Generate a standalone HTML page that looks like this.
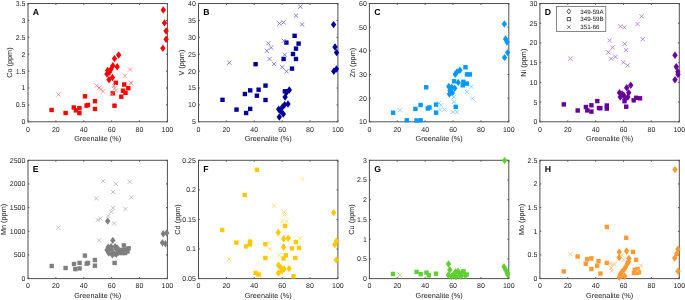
<!DOCTYPE html>
<html><head><meta charset="utf-8"><style>html,body{margin:0;padding:0;background:#fff;width:685px;height:300px;overflow:hidden}svg{display:block;filter:blur(0.45px)}</style></head>
<body><svg width="685" height="300" viewBox="0 0 685 300" font-family='"Liberation Sans", sans-serif' text-rendering="geometricPrecision"><rect width="685" height="300" fill="#fff"/><rect x="28.00" y="3.50" width="139.40" height="118.30" fill="none" stroke="#505050" stroke-width="1"/><path d="M28.00 121.80v-1.4M28.00 3.50v1.4" stroke="#505050" stroke-width="1"/><text x="28.00" y="131.50" font-size="7.0" fill="#222222" text-anchor="middle">0</text><path d="M55.88 121.80v-1.4M55.88 3.50v1.4" stroke="#505050" stroke-width="1"/><text x="55.88" y="131.50" font-size="7.0" fill="#222222" text-anchor="middle">20</text><path d="M83.76 121.80v-1.4M83.76 3.50v1.4" stroke="#505050" stroke-width="1"/><text x="83.76" y="131.50" font-size="7.0" fill="#222222" text-anchor="middle">40</text><path d="M111.64 121.80v-1.4M111.64 3.50v1.4" stroke="#505050" stroke-width="1"/><text x="111.64" y="131.50" font-size="7.0" fill="#222222" text-anchor="middle">60</text><path d="M139.52 121.80v-1.4M139.52 3.50v1.4" stroke="#505050" stroke-width="1"/><text x="139.52" y="131.50" font-size="7.0" fill="#222222" text-anchor="middle">80</text><path d="M167.40 121.80v-1.4M167.40 3.50v1.4" stroke="#505050" stroke-width="1"/><text x="167.40" y="131.50" font-size="7.0" fill="#222222" text-anchor="middle">100</text><path d="M28.00 121.80h1.4M167.40 121.80h-1.4" stroke="#505050" stroke-width="1"/><text x="25.40" y="124.25" font-size="7.0" fill="#222222" text-anchor="end">0</text><path d="M28.00 104.90h1.4M167.40 104.90h-1.4" stroke="#505050" stroke-width="1"/><text x="25.40" y="107.35" font-size="7.0" fill="#222222" text-anchor="end">0.5</text><path d="M28.00 88.00h1.4M167.40 88.00h-1.4" stroke="#505050" stroke-width="1"/><text x="25.40" y="90.45" font-size="7.0" fill="#222222" text-anchor="end">1</text><path d="M28.00 71.10h1.4M167.40 71.10h-1.4" stroke="#505050" stroke-width="1"/><text x="25.40" y="73.55" font-size="7.0" fill="#222222" text-anchor="end">1.5</text><path d="M28.00 54.20h1.4M167.40 54.20h-1.4" stroke="#505050" stroke-width="1"/><text x="25.40" y="56.65" font-size="7.0" fill="#222222" text-anchor="end">2</text><path d="M28.00 37.30h1.4M167.40 37.30h-1.4" stroke="#505050" stroke-width="1"/><text x="25.40" y="39.75" font-size="7.0" fill="#222222" text-anchor="end">2.5</text><path d="M28.00 20.40h1.4M167.40 20.40h-1.4" stroke="#505050" stroke-width="1"/><text x="25.40" y="22.85" font-size="7.0" fill="#222222" text-anchor="end">3</text><path d="M28.00 3.50h1.4M167.40 3.50h-1.4" stroke="#505050" stroke-width="1"/><text x="25.40" y="5.95" font-size="7.0" fill="#222222" text-anchor="end">3.5</text><text x="97.70" y="140.90" font-size="7.3" fill="#222222" text-anchor="middle">Greenalite (%)</text><text transform="translate(11.77,62.65) rotate(-90)" font-size="7.3" fill="#222222" text-anchor="middle">Co (ppm)</text><text x="32.80" y="15.10" font-size="8.7" font-weight="bold" fill="#000">A</text><path d="M118.7 51.3L121.4 55.0L118.7 58.7L116.0 55.0Z" fill="#ff0000"/><path d="M114.5 54.9L117.2 58.6L114.5 62.3L111.8 58.6Z" fill="#ff0000"/><path d="M117.2 63.0L119.9 66.7L117.2 70.4L114.5 66.7Z" fill="#ff0000"/><path d="M112.8 62.1L115.5 65.8L112.8 69.5L110.1 65.8Z" fill="#ff0000"/><path d="M107.6 66.7L110.3 70.4L107.6 74.1L104.9 70.4Z" fill="#ff0000"/><path d="M111.0 65.6L113.7 69.3L111.0 73.0L108.3 69.3Z" fill="#ff0000"/><path d="M107.0 70.3L109.7 74.0L107.0 77.7L104.3 74.0Z" fill="#ff0000"/><path d="M109.5 68.3L112.2 72.0L109.5 75.7L106.8 72.0Z" fill="#ff0000"/><path d="M112.5 73.8L115.2 77.5L112.5 81.2L109.8 77.5Z" fill="#ff0000"/><path d="M109.0 76.1L111.7 79.8L109.0 83.5L106.3 79.8Z" fill="#ff0000"/><path d="M163.3 6.3L166.0 10.0L163.3 13.7L160.6 10.0Z" fill="#ff0000"/><path d="M164.5 19.2L167.2 22.9L164.5 26.6L161.8 22.9Z" fill="#ff0000"/><path d="M166.1 27.3L168.8 31.0L166.1 34.7L163.4 31.0Z" fill="#ff0000"/><path d="M166.1 35.5L168.8 39.2L166.1 42.9L163.4 39.2Z" fill="#ff0000"/><path d="M162.9 44.6L165.6 48.3L162.9 52.0L160.2 48.3Z" fill="#ff0000"/><rect x="49.4" y="107.8" width="4.4" height="4.4" fill="#ff0000"/><rect x="63.4" y="110.8" width="4.4" height="4.4" fill="#ff0000"/><rect x="71.6" y="105.3" width="4.4" height="4.4" fill="#ff0000"/><rect x="73.7" y="108.2" width="4.4" height="4.4" fill="#ff0000"/><rect x="77.2" y="105.9" width="4.4" height="4.4" fill="#ff0000"/><rect x="77.2" y="110.9" width="4.4" height="4.4" fill="#ff0000"/><rect x="82.8" y="94.1" width="4.4" height="4.4" fill="#ff0000"/><rect x="84.4" y="103.4" width="4.4" height="4.4" fill="#ff0000"/><rect x="85.7" y="102.8" width="4.4" height="4.4" fill="#ff0000"/><rect x="92.8" y="99.0" width="4.4" height="4.4" fill="#ff0000"/><rect x="92.8" y="106.8" width="4.4" height="4.4" fill="#ff0000"/><rect x="110.6" y="91.1" width="4.4" height="4.4" fill="#ff0000"/><rect x="112.3" y="103.5" width="4.4" height="4.4" fill="#ff0000"/><rect x="113.6" y="80.6" width="4.4" height="4.4" fill="#ff0000"/><rect x="119.1" y="94.5" width="4.4" height="4.4" fill="#ff0000"/><rect x="120.8" y="88.5" width="4.4" height="4.4" fill="#ff0000"/><rect x="122.0" y="82.3" width="4.4" height="4.4" fill="#ff0000"/><rect x="123.3" y="90.6" width="4.4" height="4.4" fill="#ff0000"/><rect x="126.1" y="86.0" width="4.4" height="4.4" fill="#ff0000"/><path d="M56.4 92.4L60.6 96.6M56.4 96.6L60.6 92.4" stroke="#ff8080" stroke-width="0.8" fill="none"/><path d="M94.6 83.6L98.8 87.8M94.6 87.8L98.8 83.6" stroke="#ff8080" stroke-width="0.8" fill="none"/><path d="M97.1 85.7L101.3 89.9M97.1 89.9L101.3 85.7" stroke="#ff8080" stroke-width="0.8" fill="none"/><path d="M98.9 87.4L103.1 91.6M98.9 91.6L103.1 87.4" stroke="#ff8080" stroke-width="0.8" fill="none"/><path d="M100.9 89.4L105.1 93.6M100.9 93.6L105.1 89.4" stroke="#ff8080" stroke-width="0.8" fill="none"/><path d="M112.6 86.1L116.8 90.3M112.6 90.3L116.8 86.1" stroke="#ff8080" stroke-width="0.8" fill="none"/><path d="M109.6 91.6L113.8 95.8M109.6 95.8L113.8 91.6" stroke="#ff8080" stroke-width="0.8" fill="none"/><path d="M111.9 83.9L116.1 88.1M111.9 88.1L116.1 83.9" stroke="#ff8080" stroke-width="0.8" fill="none"/><path d="M122.9 73.6L127.1 77.8M122.9 77.8L127.1 73.6" stroke="#ff8080" stroke-width="0.8" fill="none"/><path d="M127.9 67.4L132.1 71.6M127.9 71.6L132.1 67.4" stroke="#ff8080" stroke-width="0.8" fill="none"/><path d="M129.2 81.1L133.4 85.3M129.2 85.3L133.4 81.1" stroke="#ff8080" stroke-width="0.8" fill="none"/><path d="M128.8 80.6L133.0 84.8M128.8 84.8L133.0 80.6" stroke="#ff8080" stroke-width="0.8" fill="none"/><path d="M113.9 88.4L118.1 92.6M113.9 92.6L118.1 88.4" stroke="#ff8080" stroke-width="0.8" fill="none"/><rect x="198.50" y="3.50" width="139.40" height="118.30" fill="none" stroke="#505050" stroke-width="1"/><path d="M198.50 121.80v-1.4M198.50 3.50v1.4" stroke="#505050" stroke-width="1"/><text x="198.50" y="131.50" font-size="7.0" fill="#222222" text-anchor="middle">0</text><path d="M226.38 121.80v-1.4M226.38 3.50v1.4" stroke="#505050" stroke-width="1"/><text x="226.38" y="131.50" font-size="7.0" fill="#222222" text-anchor="middle">20</text><path d="M254.26 121.80v-1.4M254.26 3.50v1.4" stroke="#505050" stroke-width="1"/><text x="254.26" y="131.50" font-size="7.0" fill="#222222" text-anchor="middle">40</text><path d="M282.14 121.80v-1.4M282.14 3.50v1.4" stroke="#505050" stroke-width="1"/><text x="282.14" y="131.50" font-size="7.0" fill="#222222" text-anchor="middle">60</text><path d="M310.02 121.80v-1.4M310.02 3.50v1.4" stroke="#505050" stroke-width="1"/><text x="310.02" y="131.50" font-size="7.0" fill="#222222" text-anchor="middle">80</text><path d="M337.90 121.80v-1.4M337.90 3.50v1.4" stroke="#505050" stroke-width="1"/><text x="337.90" y="131.50" font-size="7.0" fill="#222222" text-anchor="middle">100</text><path d="M198.50 121.80h1.4M337.90 121.80h-1.4" stroke="#505050" stroke-width="1"/><text x="195.90" y="124.25" font-size="7.0" fill="#222222" text-anchor="end">5</text><path d="M198.50 104.90h1.4M337.90 104.90h-1.4" stroke="#505050" stroke-width="1"/><text x="195.90" y="107.35" font-size="7.0" fill="#222222" text-anchor="end">10</text><path d="M198.50 88.00h1.4M337.90 88.00h-1.4" stroke="#505050" stroke-width="1"/><text x="195.90" y="90.45" font-size="7.0" fill="#222222" text-anchor="end">15</text><path d="M198.50 71.10h1.4M337.90 71.10h-1.4" stroke="#505050" stroke-width="1"/><text x="195.90" y="73.55" font-size="7.0" fill="#222222" text-anchor="end">20</text><path d="M198.50 54.20h1.4M337.90 54.20h-1.4" stroke="#505050" stroke-width="1"/><text x="195.90" y="56.65" font-size="7.0" fill="#222222" text-anchor="end">25</text><path d="M198.50 37.30h1.4M337.90 37.30h-1.4" stroke="#505050" stroke-width="1"/><text x="195.90" y="39.75" font-size="7.0" fill="#222222" text-anchor="end">30</text><path d="M198.50 20.40h1.4M337.90 20.40h-1.4" stroke="#505050" stroke-width="1"/><text x="195.90" y="22.85" font-size="7.0" fill="#222222" text-anchor="end">35</text><path d="M198.50 3.50h1.4M337.90 3.50h-1.4" stroke="#505050" stroke-width="1"/><text x="195.90" y="5.95" font-size="7.0" fill="#222222" text-anchor="end">40</text><text x="268.20" y="140.90" font-size="7.3" fill="#222222" text-anchor="middle">Greenalite (%)</text><text transform="translate(184.21,62.65) rotate(-90)" font-size="7.3" fill="#222222" text-anchor="middle">V (ppm)</text><text x="203.30" y="15.10" font-size="8.7" font-weight="bold" fill="#000">B</text><path d="M333.6 20.9L336.3 24.6L333.6 28.3L330.9 24.6Z" fill="#000099"/><path d="M335.0 43.3L337.7 47.0L335.0 50.7L332.3 47.0Z" fill="#000099"/><path d="M336.6 48.9L339.3 52.6L336.6 56.3L333.9 52.6Z" fill="#000099"/><path d="M333.8 67.5L336.5 71.2L333.8 74.9L331.1 71.2Z" fill="#000099"/><path d="M336.4 65.3L339.1 69.0L336.4 72.7L333.7 69.0Z" fill="#000099"/><path d="M289.3 86.3L292.0 90.0L289.3 93.7L286.6 90.0Z" fill="#000099"/><path d="M286.5 88.8L289.2 92.5L286.5 96.2L283.8 92.5Z" fill="#000099"/><path d="M285.1 93.4L287.8 97.1L285.1 100.8L282.4 97.1Z" fill="#000099"/><path d="M288.0 100.3L290.7 104.0L288.0 107.7L285.3 104.0Z" fill="#000099"/><path d="M284.7 101.0L287.4 104.7L284.7 108.4L282.0 104.7Z" fill="#000099"/><path d="M282.5 103.3L285.2 107.0L282.5 110.7L279.8 107.0Z" fill="#000099"/><path d="M278.7 105.6L281.4 109.3L278.7 113.0L276.0 109.3Z" fill="#000099"/><path d="M280.5 107.3L283.2 111.0L280.5 114.7L277.8 111.0Z" fill="#000099"/><path d="M283.3 110.3L286.0 114.0L283.3 117.7L280.6 114.0Z" fill="#000099"/><path d="M279.3 113.3L282.0 117.0L279.3 120.7L276.6 117.0Z" fill="#000099"/><rect x="220.3" y="97.6" width="4.4" height="4.4" fill="#000099"/><rect x="234.3" y="107.4" width="4.4" height="4.4" fill="#000099"/><rect x="243.9" y="110.8" width="4.4" height="4.4" fill="#000099"/><rect x="248.0" y="106.7" width="4.4" height="4.4" fill="#000099"/><rect x="242.7" y="91.8" width="4.4" height="4.4" fill="#000099"/><rect x="248.0" y="88.2" width="4.4" height="4.4" fill="#000099"/><rect x="254.7" y="93.5" width="4.4" height="4.4" fill="#000099"/><rect x="256.4" y="87.5" width="4.4" height="4.4" fill="#000099"/><rect x="253.4" y="62.0" width="4.4" height="4.4" fill="#000099"/><rect x="263.3" y="83.4" width="4.4" height="4.4" fill="#000099"/><rect x="263.3" y="97.8" width="4.4" height="4.4" fill="#000099"/><rect x="281.4" y="56.8" width="4.4" height="4.4" fill="#000099"/><rect x="293.8" y="56.8" width="4.4" height="4.4" fill="#000099"/><rect x="289.8" y="66.4" width="4.4" height="4.4" fill="#000099"/><rect x="290.8" y="51.8" width="4.4" height="4.4" fill="#000099"/><rect x="293.8" y="46.4" width="4.4" height="4.4" fill="#000099"/><rect x="296.4" y="41.4" width="4.4" height="4.4" fill="#000099"/><rect x="284.2" y="40.4" width="4.4" height="4.4" fill="#000099"/><rect x="292.4" y="33.6" width="4.4" height="4.4" fill="#000099"/><rect x="282.7" y="89.1" width="4.4" height="4.4" fill="#000099"/><path d="M227.2 60.6L231.4 64.8M227.2 64.8L231.4 60.6" stroke="#6666cc" stroke-width="0.8" fill="none"/><path d="M266.3 41.2L270.5 45.4M266.3 45.4L270.5 41.2" stroke="#6666cc" stroke-width="0.8" fill="none"/><path d="M269.1 45.5L273.3 49.7M269.1 49.7L273.3 45.5" stroke="#6666cc" stroke-width="0.8" fill="none"/><path d="M264.7 48.7L268.9 52.9M264.7 52.9L268.9 48.7" stroke="#6666cc" stroke-width="0.8" fill="none"/><path d="M267.4 56.9L271.6 61.1M267.4 61.1L271.6 56.9" stroke="#6666cc" stroke-width="0.8" fill="none"/><path d="M272.0 61.9L276.2 66.1M272.0 66.1L276.2 61.9" stroke="#6666cc" stroke-width="0.8" fill="none"/><path d="M280.2 65.1L284.4 69.3M280.2 69.3L284.4 65.1" stroke="#6666cc" stroke-width="0.8" fill="none"/><path d="M284.4 69.2L288.6 73.4M284.4 73.4L288.6 69.2" stroke="#6666cc" stroke-width="0.8" fill="none"/><path d="M282.7 52.6L286.9 56.8M282.7 56.8L286.9 52.6" stroke="#6666cc" stroke-width="0.8" fill="none"/><path d="M281.7 38.7L285.9 42.9M281.7 42.9L285.9 38.7" stroke="#6666cc" stroke-width="0.8" fill="none"/><path d="M277.4 21.3L281.6 25.5M277.4 25.5L281.6 21.3" stroke="#6666cc" stroke-width="0.8" fill="none"/><path d="M281.5 20.3L285.7 24.5M281.5 24.5L285.7 20.3" stroke="#6666cc" stroke-width="0.8" fill="none"/><path d="M293.9 13.5L298.1 17.7M293.9 17.7L298.1 13.5" stroke="#6666cc" stroke-width="0.8" fill="none"/><path d="M298.3 4.5L302.5 8.7M298.3 8.7L302.5 4.5" stroke="#6666cc" stroke-width="0.8" fill="none"/><path d="M299.9 22.3L304.1 26.5M299.9 26.5L304.1 22.3" stroke="#6666cc" stroke-width="0.8" fill="none"/><rect x="369.40" y="3.50" width="139.40" height="118.30" fill="none" stroke="#505050" stroke-width="1"/><path d="M369.40 121.80v-1.4M369.40 3.50v1.4" stroke="#505050" stroke-width="1"/><text x="369.40" y="131.50" font-size="7.0" fill="#222222" text-anchor="middle">0</text><path d="M397.28 121.80v-1.4M397.28 3.50v1.4" stroke="#505050" stroke-width="1"/><text x="397.28" y="131.50" font-size="7.0" fill="#222222" text-anchor="middle">20</text><path d="M425.16 121.80v-1.4M425.16 3.50v1.4" stroke="#505050" stroke-width="1"/><text x="425.16" y="131.50" font-size="7.0" fill="#222222" text-anchor="middle">40</text><path d="M453.04 121.80v-1.4M453.04 3.50v1.4" stroke="#505050" stroke-width="1"/><text x="453.04" y="131.50" font-size="7.0" fill="#222222" text-anchor="middle">60</text><path d="M480.92 121.80v-1.4M480.92 3.50v1.4" stroke="#505050" stroke-width="1"/><text x="480.92" y="131.50" font-size="7.0" fill="#222222" text-anchor="middle">80</text><path d="M508.80 121.80v-1.4M508.80 3.50v1.4" stroke="#505050" stroke-width="1"/><text x="508.80" y="131.50" font-size="7.0" fill="#222222" text-anchor="middle">100</text><path d="M369.40 121.80h1.4M508.80 121.80h-1.4" stroke="#505050" stroke-width="1"/><text x="366.80" y="124.25" font-size="7.0" fill="#222222" text-anchor="end">10</text><path d="M369.40 98.14h1.4M508.80 98.14h-1.4" stroke="#505050" stroke-width="1"/><text x="366.80" y="100.59" font-size="7.0" fill="#222222" text-anchor="end">20</text><path d="M369.40 74.48h1.4M508.80 74.48h-1.4" stroke="#505050" stroke-width="1"/><text x="366.80" y="76.93" font-size="7.0" fill="#222222" text-anchor="end">30</text><path d="M369.40 50.82h1.4M508.80 50.82h-1.4" stroke="#505050" stroke-width="1"/><text x="366.80" y="53.27" font-size="7.0" fill="#222222" text-anchor="end">40</text><path d="M369.40 27.16h1.4M508.80 27.16h-1.4" stroke="#505050" stroke-width="1"/><text x="366.80" y="29.61" font-size="7.0" fill="#222222" text-anchor="end">50</text><path d="M369.40 3.50h1.4M508.80 3.50h-1.4" stroke="#505050" stroke-width="1"/><text x="366.80" y="5.95" font-size="7.0" fill="#222222" text-anchor="end">60</text><text x="439.10" y="140.90" font-size="7.3" fill="#222222" text-anchor="middle">Greenalite (%)</text><text transform="translate(355.11,62.65) rotate(-90)" font-size="7.3" fill="#222222" text-anchor="middle">Zn (ppm)</text><text x="374.20" y="15.10" font-size="8.7" font-weight="bold" fill="#000">C</text><path d="M504.4 20.3L507.1 24.0L504.4 27.7L501.7 24.0Z" fill="#0099ff"/><path d="M505.6 35.3L508.3 39.0L505.6 42.7L502.9 39.0Z" fill="#0099ff"/><path d="M507.0 38.3L509.7 42.0L507.0 45.7L504.3 42.0Z" fill="#0099ff"/><path d="M507.6 48.9L510.3 52.6L507.6 56.3L504.9 52.6Z" fill="#0099ff"/><path d="M504.6 53.9L507.3 57.6L504.6 61.3L501.9 57.6Z" fill="#0099ff"/><path d="M459.9 66.5L462.6 70.2L459.9 73.9L457.2 70.2Z" fill="#0099ff"/><path d="M457.0 68.2L459.7 71.9L457.0 75.6L454.3 71.9Z" fill="#0099ff"/><path d="M455.3 70.6L458.0 74.3L455.3 78.0L452.6 74.3Z" fill="#0099ff"/><path d="M458.2 78.7L460.9 82.4L458.2 86.1L455.5 82.4Z" fill="#0099ff"/><path d="M448.8 82.8L451.5 86.5L448.8 90.2L446.1 86.5Z" fill="#0099ff"/><path d="M451.8 83.4L454.5 87.1L451.8 90.8L449.1 87.1Z" fill="#0099ff"/><path d="M454.7 84.6L457.4 88.3L454.7 92.0L452.0 88.3Z" fill="#0099ff"/><path d="M450.0 86.9L452.7 90.6L450.0 94.3L447.3 90.6Z" fill="#0099ff"/><path d="M449.4 90.4L452.1 94.1L449.4 97.8L446.7 94.1Z" fill="#0099ff"/><path d="M452.3 89.2L455.0 92.9L452.3 96.6L449.6 92.9Z" fill="#0099ff"/><rect x="390.9" y="110.5" width="4.4" height="4.4" fill="#0099ff"/><rect x="404.6" y="118.1" width="4.4" height="4.4" fill="#0099ff"/><rect x="414.3" y="118.3" width="4.4" height="4.4" fill="#0099ff"/><rect x="418.4" y="118.1" width="4.4" height="4.4" fill="#0099ff"/><rect x="413.2" y="106.7" width="4.4" height="4.4" fill="#0099ff"/><rect x="418.4" y="102.8" width="4.4" height="4.4" fill="#0099ff"/><rect x="424.0" y="85.1" width="4.4" height="4.4" fill="#0099ff"/><rect x="425.6" y="106.3" width="4.4" height="4.4" fill="#0099ff"/><rect x="427.3" y="105.3" width="4.4" height="4.4" fill="#0099ff"/><rect x="433.9" y="102.4" width="4.4" height="4.4" fill="#0099ff"/><rect x="433.9" y="110.5" width="4.4" height="4.4" fill="#0099ff"/><rect x="451.9" y="79.1" width="4.4" height="4.4" fill="#0099ff"/><rect x="453.5" y="104.6" width="4.4" height="4.4" fill="#0099ff"/><rect x="463.3" y="65.1" width="4.4" height="4.4" fill="#0099ff"/><rect x="464.8" y="72.2" width="4.4" height="4.4" fill="#0099ff"/><rect x="467.6" y="72.2" width="4.4" height="4.4" fill="#0099ff"/><rect x="461.2" y="79.6" width="4.4" height="4.4" fill="#0099ff"/><rect x="464.7" y="81.4" width="4.4" height="4.4" fill="#0099ff"/><rect x="460.6" y="83.1" width="4.4" height="4.4" fill="#0099ff"/><path d="M397.8 108.1L402.0 112.3M397.8 112.3L402.0 108.1" stroke="#80ccff" stroke-width="0.8" fill="none"/><path d="M436.8 100.9L441.0 105.1M436.8 105.1L441.0 100.9" stroke="#80ccff" stroke-width="0.8" fill="none"/><path d="M439.1 103.1L443.3 107.3M439.1 107.3L443.3 103.1" stroke="#80ccff" stroke-width="0.8" fill="none"/><path d="M437.9 107.6L442.1 111.8M437.9 111.8L442.1 107.6" stroke="#80ccff" stroke-width="0.8" fill="none"/><path d="M442.4 107.6L446.6 111.8M442.4 111.8L446.6 107.6" stroke="#80ccff" stroke-width="0.8" fill="none"/><path d="M452.0 94.8L456.2 99.0M452.0 99.0L456.2 94.8" stroke="#80ccff" stroke-width="0.8" fill="none"/><path d="M452.0 99.7L456.2 103.9M452.0 103.9L456.2 99.7" stroke="#80ccff" stroke-width="0.8" fill="none"/><path d="M450.9 109.8L455.1 114.0M450.9 114.0L455.1 109.8" stroke="#80ccff" stroke-width="0.8" fill="none"/><path d="M454.7 109.8L458.9 114.0M454.7 114.0L458.9 109.8" stroke="#80ccff" stroke-width="0.8" fill="none"/><path d="M469.2 84.6L473.4 88.8M469.2 88.8L473.4 84.6" stroke="#80ccff" stroke-width="0.8" fill="none"/><path d="M464.7 89.7L468.9 93.9M464.7 93.9L468.9 89.7" stroke="#80ccff" stroke-width="0.8" fill="none"/><path d="M470.3 96.4L474.5 100.6M470.3 100.6L474.5 96.4" stroke="#80ccff" stroke-width="0.8" fill="none"/><rect x="539.90" y="3.50" width="139.40" height="118.30" fill="none" stroke="#505050" stroke-width="1"/><path d="M539.90 121.80v-1.4M539.90 3.50v1.4" stroke="#505050" stroke-width="1"/><text x="539.90" y="131.50" font-size="7.0" fill="#222222" text-anchor="middle">0</text><path d="M567.78 121.80v-1.4M567.78 3.50v1.4" stroke="#505050" stroke-width="1"/><text x="567.78" y="131.50" font-size="7.0" fill="#222222" text-anchor="middle">20</text><path d="M595.66 121.80v-1.4M595.66 3.50v1.4" stroke="#505050" stroke-width="1"/><text x="595.66" y="131.50" font-size="7.0" fill="#222222" text-anchor="middle">40</text><path d="M623.54 121.80v-1.4M623.54 3.50v1.4" stroke="#505050" stroke-width="1"/><text x="623.54" y="131.50" font-size="7.0" fill="#222222" text-anchor="middle">60</text><path d="M651.42 121.80v-1.4M651.42 3.50v1.4" stroke="#505050" stroke-width="1"/><text x="651.42" y="131.50" font-size="7.0" fill="#222222" text-anchor="middle">80</text><path d="M679.30 121.80v-1.4M679.30 3.50v1.4" stroke="#505050" stroke-width="1"/><text x="679.30" y="131.50" font-size="7.0" fill="#222222" text-anchor="middle">100</text><path d="M539.90 121.80h1.4M679.30 121.80h-1.4" stroke="#505050" stroke-width="1"/><text x="537.30" y="124.25" font-size="7.0" fill="#222222" text-anchor="end">0</text><path d="M539.90 102.08h1.4M679.30 102.08h-1.4" stroke="#505050" stroke-width="1"/><text x="537.30" y="104.53" font-size="7.0" fill="#222222" text-anchor="end">5</text><path d="M539.90 82.37h1.4M679.30 82.37h-1.4" stroke="#505050" stroke-width="1"/><text x="537.30" y="84.82" font-size="7.0" fill="#222222" text-anchor="end">10</text><path d="M539.90 62.65h1.4M679.30 62.65h-1.4" stroke="#505050" stroke-width="1"/><text x="537.30" y="65.10" font-size="7.0" fill="#222222" text-anchor="end">15</text><path d="M539.90 42.93h1.4M679.30 42.93h-1.4" stroke="#505050" stroke-width="1"/><text x="537.30" y="45.38" font-size="7.0" fill="#222222" text-anchor="end">20</text><path d="M539.90 23.22h1.4M679.30 23.22h-1.4" stroke="#505050" stroke-width="1"/><text x="537.30" y="25.67" font-size="7.0" fill="#222222" text-anchor="end">25</text><path d="M539.90 3.50h1.4M679.30 3.50h-1.4" stroke="#505050" stroke-width="1"/><text x="537.30" y="5.95" font-size="7.0" fill="#222222" text-anchor="end">30</text><text x="609.60" y="140.90" font-size="7.3" fill="#222222" text-anchor="middle">Greenalite (%)</text><text transform="translate(525.61,62.65) rotate(-90)" font-size="7.3" fill="#222222" text-anchor="middle">Ni (ppm)</text><text x="544.70" y="15.10" font-size="8.7" font-weight="bold" fill="#000">D</text><path d="M630.7 81.6L633.4 85.3L630.7 89.0L628.0 85.3Z" fill="#660099"/><path d="M626.7 84.1L629.4 87.8L626.7 91.5L624.0 87.8Z" fill="#660099"/><path d="M619.5 89.1L622.2 92.8L619.5 96.5L616.8 92.8Z" fill="#660099"/><path d="M620.3 93.3L623.0 97.0L620.3 100.7L617.6 97.0Z" fill="#660099"/><path d="M623.7 91.6L626.4 95.3L623.7 99.0L621.0 95.3Z" fill="#660099"/><path d="M628.7 89.1L631.4 92.8L628.7 96.5L626.0 92.8Z" fill="#660099"/><path d="M627.8 93.3L630.5 97.0L627.8 100.7L625.1 97.0Z" fill="#660099"/><path d="M625.0 95.3L627.7 99.0L625.0 102.7L622.3 99.0Z" fill="#660099"/><path d="M622.0 90.3L624.7 94.0L622.0 97.7L619.3 94.0Z" fill="#660099"/><path d="M675.0 51.6L677.7 55.3L675.0 59.0L672.3 55.3Z" fill="#660099"/><path d="M676.3 63.0L679.0 66.7L676.3 70.4L673.6 66.7Z" fill="#660099"/><path d="M677.8 68.0L680.5 71.7L677.8 75.4L675.1 71.7Z" fill="#660099"/><path d="M678.0 70.8L680.7 74.5L678.0 78.2L675.3 74.5Z" fill="#660099"/><path d="M675.0 76.0L677.7 79.7L675.0 83.4L672.3 79.7Z" fill="#660099"/><rect x="561.6" y="102.2" width="4.4" height="4.4" fill="#660099"/><rect x="575.5" y="108.3" width="4.4" height="4.4" fill="#660099"/><rect x="583.7" y="104.8" width="4.4" height="4.4" fill="#660099"/><rect x="585.1" y="108.2" width="4.4" height="4.4" fill="#660099"/><rect x="589.2" y="103.1" width="4.4" height="4.4" fill="#660099"/><rect x="589.2" y="109.4" width="4.4" height="4.4" fill="#660099"/><rect x="595.1" y="98.9" width="4.4" height="4.4" fill="#660099"/><rect x="596.8" y="105.8" width="4.4" height="4.4" fill="#660099"/><rect x="598.1" y="106.0" width="4.4" height="4.4" fill="#660099"/><rect x="604.6" y="103.3" width="4.4" height="4.4" fill="#660099"/><rect x="604.6" y="106.4" width="4.4" height="4.4" fill="#660099"/><rect x="622.3" y="99.0" width="4.4" height="4.4" fill="#660099"/><rect x="624.0" y="104.5" width="4.4" height="4.4" fill="#660099"/><rect x="631.5" y="98.1" width="4.4" height="4.4" fill="#660099"/><rect x="634.0" y="95.6" width="4.4" height="4.4" fill="#660099"/><rect x="637.8" y="96.1" width="4.4" height="4.4" fill="#660099"/><path d="M568.3 56.5L572.5 60.7M568.3 60.7L572.5 56.5" stroke="#a870d8" stroke-width="0.8" fill="none"/><path d="M607.6 38.4L611.8 42.6M607.6 42.6L611.8 38.4" stroke="#a870d8" stroke-width="0.8" fill="none"/><path d="M610.6 45.3L614.8 49.5M610.6 49.5L614.8 45.3" stroke="#a870d8" stroke-width="0.8" fill="none"/><path d="M606.2 50.2L610.4 54.4M606.2 54.4L610.4 50.2" stroke="#a870d8" stroke-width="0.8" fill="none"/><path d="M609.0 56.5L613.2 60.7M609.0 60.7L613.2 56.5" stroke="#a870d8" stroke-width="0.8" fill="none"/><path d="M613.3 54.8L617.5 59.0M613.3 59.0L617.5 54.8" stroke="#a870d8" stroke-width="0.8" fill="none"/><path d="M622.6 41.7L626.8 45.9M622.6 45.9L626.8 41.7" stroke="#a870d8" stroke-width="0.8" fill="none"/><path d="M624.0 48.0L628.2 52.2M624.0 52.2L628.2 48.0" stroke="#a870d8" stroke-width="0.8" fill="none"/><path d="M621.2 60.3L625.4 64.5M621.2 64.5L625.4 60.3" stroke="#a870d8" stroke-width="0.8" fill="none"/><path d="M625.6 63.3L629.8 67.5M625.6 67.5L629.8 63.3" stroke="#a870d8" stroke-width="0.8" fill="none"/><path d="M618.4 24.3L622.6 28.5M618.4 28.5L622.6 24.3" stroke="#a870d8" stroke-width="0.8" fill="none"/><path d="M622.4 25.2L626.6 29.4M622.4 29.4L626.6 25.2" stroke="#a870d8" stroke-width="0.8" fill="none"/><path d="M635.3 21.9L639.5 26.1M635.3 26.1L639.5 21.9" stroke="#a870d8" stroke-width="0.8" fill="none"/><path d="M639.5 14.2L643.7 18.4M639.5 18.4L643.7 14.2" stroke="#a870d8" stroke-width="0.8" fill="none"/><path d="M640.6 37.1L644.8 41.3M640.6 41.3L644.8 37.1" stroke="#a870d8" stroke-width="0.8" fill="none"/><rect x="28.00" y="160.30" width="139.40" height="118.30" fill="none" stroke="#505050" stroke-width="1"/><path d="M28.00 278.60v-1.4M28.00 160.30v1.4" stroke="#505050" stroke-width="1"/><text x="28.00" y="288.30" font-size="7.0" fill="#222222" text-anchor="middle">0</text><path d="M55.88 278.60v-1.4M55.88 160.30v1.4" stroke="#505050" stroke-width="1"/><text x="55.88" y="288.30" font-size="7.0" fill="#222222" text-anchor="middle">20</text><path d="M83.76 278.60v-1.4M83.76 160.30v1.4" stroke="#505050" stroke-width="1"/><text x="83.76" y="288.30" font-size="7.0" fill="#222222" text-anchor="middle">40</text><path d="M111.64 278.60v-1.4M111.64 160.30v1.4" stroke="#505050" stroke-width="1"/><text x="111.64" y="288.30" font-size="7.0" fill="#222222" text-anchor="middle">60</text><path d="M139.52 278.60v-1.4M139.52 160.30v1.4" stroke="#505050" stroke-width="1"/><text x="139.52" y="288.30" font-size="7.0" fill="#222222" text-anchor="middle">80</text><path d="M167.40 278.60v-1.4M167.40 160.30v1.4" stroke="#505050" stroke-width="1"/><text x="167.40" y="288.30" font-size="7.0" fill="#222222" text-anchor="middle">100</text><path d="M28.00 278.60h1.4M167.40 278.60h-1.4" stroke="#505050" stroke-width="1"/><text x="25.40" y="281.05" font-size="7.0" fill="#222222" text-anchor="end">0</text><path d="M28.00 254.94h1.4M167.40 254.94h-1.4" stroke="#505050" stroke-width="1"/><text x="25.40" y="257.39" font-size="7.0" fill="#222222" text-anchor="end">500</text><path d="M28.00 231.28h1.4M167.40 231.28h-1.4" stroke="#505050" stroke-width="1"/><text x="25.40" y="233.73" font-size="7.0" fill="#222222" text-anchor="end">1000</text><path d="M28.00 207.62h1.4M167.40 207.62h-1.4" stroke="#505050" stroke-width="1"/><text x="25.40" y="210.07" font-size="7.0" fill="#222222" text-anchor="end">1500</text><path d="M28.00 183.96h1.4M167.40 183.96h-1.4" stroke="#505050" stroke-width="1"/><text x="25.40" y="186.41" font-size="7.0" fill="#222222" text-anchor="end">2000</text><path d="M28.00 160.30h1.4M167.40 160.30h-1.4" stroke="#505050" stroke-width="1"/><text x="25.40" y="162.75" font-size="7.0" fill="#222222" text-anchor="end">2500</text><text x="97.70" y="297.70" font-size="7.3" fill="#222222" text-anchor="middle">Greenalite (%)</text><text transform="translate(5.93,219.45) rotate(-90)" font-size="7.3" fill="#222222" text-anchor="middle">Mn (ppm)</text><text x="32.80" y="171.90" font-size="8.7" font-weight="bold" fill="#000">E</text><path d="M107.7 217.4L110.4 221.1L107.7 224.8L105.0 221.1Z" fill="#7f7f7f"/><path d="M112.8 236.7L115.5 240.4L112.8 244.1L110.1 240.4Z" fill="#7f7f7f"/><path d="M108.2 243.5L110.9 247.2L108.2 250.9L105.5 247.2Z" fill="#7f7f7f"/><path d="M107.0 246.4L109.7 250.1L107.0 253.8L104.3 250.1Z" fill="#7f7f7f"/><path d="M109.3 245.2L112.0 248.9L109.3 252.6L106.6 248.9Z" fill="#7f7f7f"/><path d="M111.7 245.8L114.4 249.5L111.7 253.2L109.0 249.5Z" fill="#7f7f7f"/><path d="M112.3 251.1L115.0 254.8L112.3 258.5L109.6 254.8Z" fill="#7f7f7f"/><path d="M114.0 249.9L116.7 253.6L114.0 257.3L111.3 253.6Z" fill="#7f7f7f"/><path d="M116.3 245.2L119.0 248.9L116.3 252.6L113.6 248.9Z" fill="#7f7f7f"/><path d="M118.1 247.0L120.8 250.7L118.1 254.4L115.4 250.7Z" fill="#7f7f7f"/><path d="M108.8 249.3L111.5 253.0L108.8 256.7L106.1 253.0Z" fill="#7f7f7f"/><path d="M115.2 242.9L117.9 246.6L115.2 250.3L112.5 246.6Z" fill="#7f7f7f"/><path d="M117.5 244.6L120.2 248.3L117.5 252.0L114.8 248.3Z" fill="#7f7f7f"/><path d="M111.1 242.9L113.8 246.6L111.1 250.3L108.4 246.6Z" fill="#7f7f7f"/><path d="M118.7 248.7L121.4 252.4L118.7 256.1L116.0 252.4Z" fill="#7f7f7f"/><path d="M116.3 250.5L119.0 254.2L116.3 257.9L113.6 254.2Z" fill="#7f7f7f"/><path d="M163.3 230.1L166.0 233.8L163.3 237.5L160.6 233.8Z" fill="#7f7f7f"/><path d="M166.7 229.3L169.4 233.0L166.7 236.7L164.0 233.0Z" fill="#7f7f7f"/><path d="M162.5 239.1L165.2 242.8L162.5 246.5L159.8 242.8Z" fill="#7f7f7f"/><path d="M165.5 240.1L168.2 243.8L165.5 247.5L162.8 243.8Z" fill="#7f7f7f"/><rect x="49.5" y="263.8" width="4.4" height="4.4" fill="#7f7f7f"/><rect x="63.4" y="265.8" width="4.4" height="4.4" fill="#7f7f7f"/><rect x="71.8" y="261.8" width="4.4" height="4.4" fill="#7f7f7f"/><rect x="73.1" y="266.9" width="4.4" height="4.4" fill="#7f7f7f"/><rect x="77.4" y="260.7" width="4.4" height="4.4" fill="#7f7f7f"/><rect x="77.4" y="266.2" width="4.4" height="4.4" fill="#7f7f7f"/><rect x="82.7" y="253.4" width="4.4" height="4.4" fill="#7f7f7f"/><rect x="84.5" y="261.5" width="4.4" height="4.4" fill="#7f7f7f"/><rect x="85.8" y="260.7" width="4.4" height="4.4" fill="#7f7f7f"/><rect x="92.7" y="257.8" width="4.4" height="4.4" fill="#7f7f7f"/><rect x="92.7" y="263.5" width="4.4" height="4.4" fill="#7f7f7f"/><rect x="112.4" y="260.7" width="4.4" height="4.4" fill="#7f7f7f"/><rect x="121.7" y="243.2" width="4.4" height="4.4" fill="#7f7f7f"/><rect x="126.4" y="246.1" width="4.4" height="4.4" fill="#7f7f7f"/><rect x="122.9" y="247.3" width="4.4" height="4.4" fill="#7f7f7f"/><rect x="120.0" y="250.8" width="4.4" height="4.4" fill="#7f7f7f"/><rect x="122.9" y="250.8" width="4.4" height="4.4" fill="#7f7f7f"/><rect x="118.5" y="250.7" width="4.4" height="4.4" fill="#7f7f7f"/><rect x="118.8" y="247.8" width="4.4" height="4.4" fill="#7f7f7f"/><rect x="125.3" y="249.3" width="4.4" height="4.4" fill="#7f7f7f"/><path d="M56.2 225.6L60.4 229.8M56.2 229.8L60.4 225.6" stroke="#b3b3b3" stroke-width="0.8" fill="none"/><path d="M101.1 178.9L105.3 183.1M101.1 183.1L105.3 178.9" stroke="#b3b3b3" stroke-width="0.8" fill="none"/><path d="M113.7 181.7L117.9 185.9M113.7 185.9L117.9 181.7" stroke="#b3b3b3" stroke-width="0.8" fill="none"/><path d="M127.7 179.6L131.9 183.8M127.7 183.8L131.9 179.6" stroke="#b3b3b3" stroke-width="0.8" fill="none"/><path d="M110.9 189.9L115.1 194.1M110.9 194.1L115.1 189.9" stroke="#b3b3b3" stroke-width="0.8" fill="none"/><path d="M94.1 196.4L98.3 200.6M94.1 200.6L98.3 196.4" stroke="#b3b3b3" stroke-width="0.8" fill="none"/><path d="M129.1 195.3L133.3 199.5M129.1 199.5L133.3 195.3" stroke="#b3b3b3" stroke-width="0.8" fill="none"/><path d="M110.9 205.8L115.1 210.0M110.9 210.0L115.1 205.8" stroke="#b3b3b3" stroke-width="0.8" fill="none"/><path d="M123.3 206.9L127.5 211.1M123.3 211.1L127.5 206.9" stroke="#b3b3b3" stroke-width="0.8" fill="none"/><path d="M109.3 209.7L113.5 213.9M109.3 213.9L113.5 209.7" stroke="#b3b3b3" stroke-width="0.8" fill="none"/><path d="M106.2 213.9L110.4 218.1M106.2 218.1L110.4 213.9" stroke="#b3b3b3" stroke-width="0.8" fill="none"/><path d="M95.7 217.9L99.9 222.1M95.7 222.1L99.9 217.9" stroke="#b3b3b3" stroke-width="0.8" fill="none"/><path d="M98.3 216.3L102.5 220.5M98.3 220.5L102.5 216.3" stroke="#b3b3b3" stroke-width="0.8" fill="none"/><path d="M112.1 221.3L116.3 225.5M112.1 225.5L116.3 221.3" stroke="#b3b3b3" stroke-width="0.8" fill="none"/><path d="M97.0 238.2L101.2 242.4M97.0 242.4L101.2 238.2" stroke="#b3b3b3" stroke-width="0.8" fill="none"/><rect x="198.50" y="160.30" width="139.40" height="118.30" fill="none" stroke="#505050" stroke-width="1"/><path d="M198.50 278.60v-1.4M198.50 160.30v1.4" stroke="#505050" stroke-width="1"/><text x="198.50" y="288.30" font-size="7.0" fill="#222222" text-anchor="middle">0</text><path d="M226.38 278.60v-1.4M226.38 160.30v1.4" stroke="#505050" stroke-width="1"/><text x="226.38" y="288.30" font-size="7.0" fill="#222222" text-anchor="middle">20</text><path d="M254.26 278.60v-1.4M254.26 160.30v1.4" stroke="#505050" stroke-width="1"/><text x="254.26" y="288.30" font-size="7.0" fill="#222222" text-anchor="middle">40</text><path d="M282.14 278.60v-1.4M282.14 160.30v1.4" stroke="#505050" stroke-width="1"/><text x="282.14" y="288.30" font-size="7.0" fill="#222222" text-anchor="middle">60</text><path d="M310.02 278.60v-1.4M310.02 160.30v1.4" stroke="#505050" stroke-width="1"/><text x="310.02" y="288.30" font-size="7.0" fill="#222222" text-anchor="middle">80</text><path d="M337.90 278.60v-1.4M337.90 160.30v1.4" stroke="#505050" stroke-width="1"/><text x="337.90" y="288.30" font-size="7.0" fill="#222222" text-anchor="middle">100</text><path d="M198.50 278.60h1.4M337.90 278.60h-1.4" stroke="#505050" stroke-width="1"/><text x="195.90" y="281.05" font-size="7.0" fill="#222222" text-anchor="end">0.05</text><path d="M198.50 249.03h1.4M337.90 249.03h-1.4" stroke="#505050" stroke-width="1"/><text x="195.90" y="251.48" font-size="7.0" fill="#222222" text-anchor="end">0.1</text><path d="M198.50 219.45h1.4M337.90 219.45h-1.4" stroke="#505050" stroke-width="1"/><text x="195.90" y="221.90" font-size="7.0" fill="#222222" text-anchor="end">0.15</text><path d="M198.50 189.88h1.4M337.90 189.88h-1.4" stroke="#505050" stroke-width="1"/><text x="195.90" y="192.32" font-size="7.0" fill="#222222" text-anchor="end">0.2</text><path d="M198.50 160.30h1.4M337.90 160.30h-1.4" stroke="#505050" stroke-width="1"/><text x="195.90" y="162.75" font-size="7.0" fill="#222222" text-anchor="end">0.25</text><text x="268.20" y="297.70" font-size="7.3" fill="#222222" text-anchor="middle">Greenalite (%)</text><text transform="translate(179.68,219.45) rotate(-90)" font-size="7.3" fill="#222222" text-anchor="middle">Cd (ppm)</text><text x="203.30" y="171.90" font-size="8.7" font-weight="bold" fill="#000">F</text><path d="M278.2 228.8L280.9 232.5L278.2 236.2L275.5 232.5Z" fill="#ffc800"/><path d="M283.6 235.0L286.3 238.7L283.6 242.4L280.9 238.7Z" fill="#ffc800"/><path d="M288.2 234.5L290.9 238.2L288.2 241.9L285.5 238.2Z" fill="#ffc800"/><path d="M283.6 243.3L286.3 247.0L283.6 250.7L280.9 247.0Z" fill="#ffc800"/><path d="M278.5 261.6L281.2 265.3L278.5 269.0L275.8 265.3Z" fill="#ffc800"/><path d="M281.2 264.3L283.9 268.0L281.2 271.7L278.5 268.0Z" fill="#ffc800"/><path d="M278.5 269.3L281.2 273.0L278.5 276.7L275.8 273.0Z" fill="#ffc800"/><path d="M284.0 265.3L286.7 269.0L284.0 272.7L281.3 269.0Z" fill="#ffc800"/><path d="M289.1 264.9L291.8 268.6L289.1 272.3L286.4 268.6Z" fill="#ffc800"/><path d="M282.1 267.1L284.8 270.8L282.1 274.5L279.4 270.8Z" fill="#ffc800"/><path d="M333.7 208.9L336.4 212.6L333.7 216.3L331.0 212.6Z" fill="#ffc800"/><path d="M336.3 237.6L339.0 241.3L336.3 245.0L333.6 241.3Z" fill="#ffc800"/><path d="M334.8 240.9L337.5 244.6L334.8 248.3L332.1 244.6Z" fill="#ffc800"/><path d="M336.3 256.4L339.0 260.1L336.3 263.8L333.6 260.1Z" fill="#ffc800"/><rect x="254.8" y="167.6" width="4.4" height="4.4" fill="#ffc800"/><rect x="242.5" y="192.8" width="4.4" height="4.4" fill="#ffc800"/><rect x="220.0" y="227.8" width="4.4" height="4.4" fill="#ffc800"/><rect x="234.2" y="240.4" width="4.4" height="4.4" fill="#ffc800"/><rect x="243.8" y="244.2" width="4.4" height="4.4" fill="#ffc800"/><rect x="247.8" y="239.4" width="4.4" height="4.4" fill="#ffc800"/><rect x="247.8" y="242.2" width="4.4" height="4.4" fill="#ffc800"/><rect x="263.2" y="242.1" width="4.4" height="4.4" fill="#ffc800"/><rect x="263.2" y="255.8" width="4.4" height="4.4" fill="#ffc800"/><rect x="253.4" y="270.8" width="4.4" height="4.4" fill="#ffc800"/><rect x="256.4" y="272.4" width="4.4" height="4.4" fill="#ffc800"/><rect x="282.8" y="223.8" width="4.4" height="4.4" fill="#ffc800"/><rect x="293.7" y="239.8" width="4.4" height="4.4" fill="#ffc800"/><rect x="289.7" y="246.2" width="4.4" height="4.4" fill="#ffc800"/><rect x="296.8" y="245.7" width="4.4" height="4.4" fill="#ffc800"/><rect x="283.6" y="253.0" width="4.4" height="4.4" fill="#ffc800"/><rect x="281.4" y="256.3" width="4.4" height="4.4" fill="#ffc800"/><rect x="293.1" y="255.8" width="4.4" height="4.4" fill="#ffc800"/><rect x="291.3" y="274.1" width="4.4" height="4.4" fill="#ffc800"/><path d="M271.9 203.7L276.1 207.9M271.9 207.9L276.1 203.7" stroke="#ffdd66" stroke-width="0.8" fill="none"/><path d="M282.1 210.1L286.3 214.3M282.1 214.3L286.3 210.1" stroke="#ffdd66" stroke-width="0.8" fill="none"/><path d="M282.4 212.4L286.6 216.6M282.4 216.6L286.6 212.4" stroke="#ffdd66" stroke-width="0.8" fill="none"/><path d="M279.9 219.2L284.1 223.4M279.9 223.4L284.1 219.2" stroke="#ffdd66" stroke-width="0.8" fill="none"/><path d="M284.6 219.2L288.8 223.4M284.6 223.4L288.8 219.2" stroke="#ffdd66" stroke-width="0.8" fill="none"/><path d="M298.0 236.3L302.2 240.5M298.0 240.5L302.2 236.3" stroke="#ffdd66" stroke-width="0.8" fill="none"/><path d="M266.3 240.7L270.5 244.9M266.3 244.9L270.5 240.7" stroke="#ffdd66" stroke-width="0.8" fill="none"/><path d="M268.1 247.1L272.3 251.3M268.1 251.3L272.3 247.1" stroke="#ffdd66" stroke-width="0.8" fill="none"/><path d="M277.3 253.1L281.5 257.3M277.3 257.3L281.5 253.1" stroke="#ffdd66" stroke-width="0.8" fill="none"/><path d="M226.9 256.9L231.1 261.1M226.9 261.1L231.1 256.9" stroke="#ffdd66" stroke-width="0.8" fill="none"/><path d="M300.4 176.9L304.6 181.1M300.4 181.1L304.6 176.9" stroke="#ffdd66" stroke-width="0.8" fill="none"/><rect x="369.40" y="160.30" width="139.40" height="118.30" fill="none" stroke="#505050" stroke-width="1"/><path d="M369.40 278.60v-1.4M369.40 160.30v1.4" stroke="#505050" stroke-width="1"/><text x="369.40" y="288.30" font-size="7.0" fill="#222222" text-anchor="middle">0</text><path d="M397.28 278.60v-1.4M397.28 160.30v1.4" stroke="#505050" stroke-width="1"/><text x="397.28" y="288.30" font-size="7.0" fill="#222222" text-anchor="middle">20</text><path d="M425.16 278.60v-1.4M425.16 160.30v1.4" stroke="#505050" stroke-width="1"/><text x="425.16" y="288.30" font-size="7.0" fill="#222222" text-anchor="middle">40</text><path d="M453.04 278.60v-1.4M453.04 160.30v1.4" stroke="#505050" stroke-width="1"/><text x="453.04" y="288.30" font-size="7.0" fill="#222222" text-anchor="middle">60</text><path d="M480.92 278.60v-1.4M480.92 160.30v1.4" stroke="#505050" stroke-width="1"/><text x="480.92" y="288.30" font-size="7.0" fill="#222222" text-anchor="middle">80</text><path d="M508.80 278.60v-1.4M508.80 160.30v1.4" stroke="#505050" stroke-width="1"/><text x="508.80" y="288.30" font-size="7.0" fill="#222222" text-anchor="middle">100</text><path d="M369.40 278.60h1.4M508.80 278.60h-1.4" stroke="#505050" stroke-width="1"/><text x="366.80" y="281.05" font-size="7.0" fill="#222222" text-anchor="end">0</text><path d="M369.40 258.88h1.4M508.80 258.88h-1.4" stroke="#505050" stroke-width="1"/><text x="366.80" y="261.33" font-size="7.0" fill="#222222" text-anchor="end">0.5</text><path d="M369.40 239.17h1.4M508.80 239.17h-1.4" stroke="#505050" stroke-width="1"/><text x="366.80" y="241.62" font-size="7.0" fill="#222222" text-anchor="end">1</text><path d="M369.40 219.45h1.4M508.80 219.45h-1.4" stroke="#505050" stroke-width="1"/><text x="366.80" y="221.90" font-size="7.0" fill="#222222" text-anchor="end">1.5</text><path d="M369.40 199.73h1.4M508.80 199.73h-1.4" stroke="#505050" stroke-width="1"/><text x="366.80" y="202.18" font-size="7.0" fill="#222222" text-anchor="end">2</text><path d="M369.40 180.02h1.4M508.80 180.02h-1.4" stroke="#505050" stroke-width="1"/><text x="366.80" y="182.47" font-size="7.0" fill="#222222" text-anchor="end">2.5</text><path d="M369.40 160.30h1.4M508.80 160.30h-1.4" stroke="#505050" stroke-width="1"/><text x="366.80" y="162.75" font-size="7.0" fill="#222222" text-anchor="end">3</text><text x="439.10" y="297.70" font-size="7.3" fill="#222222" text-anchor="middle">Greenalite (%)</text><text transform="translate(353.67,219.45) rotate(-90)" font-size="7.3" fill="#222222" text-anchor="middle">Cu (ppm)</text><text x="374.20" y="171.90" font-size="8.7" font-weight="bold" fill="#000">G</text><path d="M448.5 260.2L451.2 263.9L448.5 267.6L445.8 263.9Z" fill="#5fcf32"/><path d="M449.8 266.0L452.5 269.7L449.8 273.4L447.1 269.7Z" fill="#5fcf32"/><path d="M448.3 271.4L451.0 275.1L448.3 278.8L445.6 275.1Z" fill="#5fcf32"/><path d="M452.8 271.9L455.5 275.6L452.8 279.3L450.1 275.6Z" fill="#5fcf32"/><path d="M454.9 270.3L457.6 274.0L454.9 277.7L452.2 274.0Z" fill="#5fcf32"/><path d="M458.1 267.6L460.8 271.3L458.1 275.0L455.4 271.3Z" fill="#5fcf32"/><path d="M459.7 271.9L462.4 275.6L459.7 279.3L457.0 275.6Z" fill="#5fcf32"/><path d="M462.4 268.7L465.1 272.4L462.4 276.1L459.7 272.4Z" fill="#5fcf32"/><path d="M451.5 272.8L454.2 276.5L451.5 280.2L448.8 276.5Z" fill="#5fcf32"/><path d="M456.0 273.1L458.7 276.8L456.0 280.5L453.3 276.8Z" fill="#5fcf32"/><path d="M461.0 272.6L463.7 276.3L461.0 280.0L458.3 276.3Z" fill="#5fcf32"/><path d="M465.5 271.8L468.2 275.5L465.5 279.2L462.8 275.5Z" fill="#5fcf32"/><path d="M455.5 268.3L458.2 272.0L455.5 275.7L452.8 272.0Z" fill="#5fcf32"/><path d="M504.6 156.8L507.3 160.5L504.6 164.2L501.9 160.5Z" fill="#5fcf32"/><path d="M504.0 263.0L506.7 266.7L504.0 270.4L501.3 266.7Z" fill="#5fcf32"/><path d="M505.8 266.2L508.5 269.9L505.8 273.6L503.1 269.9Z" fill="#5fcf32"/><path d="M507.1 268.9L509.8 272.6L507.1 276.3L504.4 272.6Z" fill="#5fcf32"/><path d="M507.6 270.7L510.3 274.4L507.6 278.1L504.9 274.4Z" fill="#5fcf32"/><rect x="390.8" y="271.7" width="4.4" height="4.4" fill="#5fcf32"/><rect x="414.4" y="269.7" width="4.4" height="4.4" fill="#5fcf32"/><rect x="418.5" y="272.0" width="4.4" height="4.4" fill="#5fcf32"/><rect x="424.3" y="270.4" width="4.4" height="4.4" fill="#5fcf32"/><rect x="426.6" y="273.2" width="4.4" height="4.4" fill="#5fcf32"/><rect x="433.8" y="271.5" width="4.4" height="4.4" fill="#5fcf32"/><rect x="461.3" y="269.1" width="4.4" height="4.4" fill="#5fcf32"/><rect x="464.5" y="272.3" width="4.4" height="4.4" fill="#5fcf32"/><rect x="457.8" y="270.8" width="4.4" height="4.4" fill="#5fcf32"/><path d="M397.8 272.8L402.0 277.0M397.8 277.0L402.0 272.8" stroke="#a3e080" stroke-width="0.8" fill="none"/><rect x="539.90" y="160.30" width="139.40" height="118.30" fill="none" stroke="#505050" stroke-width="1"/><path d="M539.90 278.60v-1.4M539.90 160.30v1.4" stroke="#505050" stroke-width="1"/><text x="539.90" y="288.30" font-size="7.0" fill="#222222" text-anchor="middle">0</text><path d="M567.78 278.60v-1.4M567.78 160.30v1.4" stroke="#505050" stroke-width="1"/><text x="567.78" y="288.30" font-size="7.0" fill="#222222" text-anchor="middle">20</text><path d="M595.66 278.60v-1.4M595.66 160.30v1.4" stroke="#505050" stroke-width="1"/><text x="595.66" y="288.30" font-size="7.0" fill="#222222" text-anchor="middle">40</text><path d="M623.54 278.60v-1.4M623.54 160.30v1.4" stroke="#505050" stroke-width="1"/><text x="623.54" y="288.30" font-size="7.0" fill="#222222" text-anchor="middle">60</text><path d="M651.42 278.60v-1.4M651.42 160.30v1.4" stroke="#505050" stroke-width="1"/><text x="651.42" y="288.30" font-size="7.0" fill="#222222" text-anchor="middle">80</text><path d="M679.30 278.60v-1.4M679.30 160.30v1.4" stroke="#505050" stroke-width="1"/><text x="679.30" y="288.30" font-size="7.0" fill="#222222" text-anchor="middle">100</text><path d="M539.90 278.60h1.4M679.30 278.60h-1.4" stroke="#505050" stroke-width="1"/><text x="537.30" y="281.05" font-size="7.0" fill="#222222" text-anchor="end">0</text><path d="M539.90 254.94h1.4M679.30 254.94h-1.4" stroke="#505050" stroke-width="1"/><text x="537.30" y="257.39" font-size="7.0" fill="#222222" text-anchor="end">0.5</text><path d="M539.90 231.28h1.4M679.30 231.28h-1.4" stroke="#505050" stroke-width="1"/><text x="537.30" y="233.73" font-size="7.0" fill="#222222" text-anchor="end">1</text><path d="M539.90 207.62h1.4M679.30 207.62h-1.4" stroke="#505050" stroke-width="1"/><text x="537.30" y="210.07" font-size="7.0" fill="#222222" text-anchor="end">1.5</text><path d="M539.90 183.96h1.4M679.30 183.96h-1.4" stroke="#505050" stroke-width="1"/><text x="537.30" y="186.41" font-size="7.0" fill="#222222" text-anchor="end">2</text><path d="M539.90 160.30h1.4M679.30 160.30h-1.4" stroke="#505050" stroke-width="1"/><text x="537.30" y="162.75" font-size="7.0" fill="#222222" text-anchor="end">2.5</text><text x="609.60" y="297.70" font-size="7.3" fill="#222222" text-anchor="middle">Greenalite (%)</text><text transform="translate(524.17,219.45) rotate(-90)" font-size="7.3" fill="#222222" text-anchor="middle">Mo (ppm)</text><text x="544.70" y="171.90" font-size="8.7" font-weight="bold" fill="#000">H</text><path d="M619.2 248.4L621.9 252.1L619.2 255.8L616.5 252.1Z" fill="#ff9933"/><path d="M626.6 247.3L629.3 251.0L626.6 254.7L623.9 251.0Z" fill="#ff9933"/><path d="M619.2 253.9L621.9 257.6L619.2 261.3L616.5 257.6Z" fill="#ff9933"/><path d="M628.9 254.8L631.6 258.5L628.9 262.2L626.2 258.5Z" fill="#ff9933"/><path d="M627.5 259.8L630.2 263.5L627.5 267.2L624.8 263.5Z" fill="#ff9933"/><path d="M625.6 263.4L628.3 267.1L625.6 270.8L622.9 267.1Z" fill="#ff9933"/><path d="M623.8 266.2L626.5 269.9L623.8 273.6L621.1 269.9Z" fill="#ff9933"/><path d="M622.0 268.0L624.7 271.7L622.0 275.4L619.3 271.7Z" fill="#ff9933"/><path d="M620.1 270.8L622.8 274.5L620.1 278.2L617.4 274.5Z" fill="#ff9933"/><path d="M624.7 272.6L627.4 276.3L624.7 280.0L622.0 276.3Z" fill="#ff9933"/><path d="M619.2 273.5L621.9 277.2L619.2 280.9L616.5 277.2Z" fill="#ff9933"/><path d="M628.5 257.8L631.2 261.5L628.5 265.2L625.8 261.5Z" fill="#ff9933"/><path d="M621.5 271.8L624.2 275.5L621.5 279.2L618.8 275.5Z" fill="#ff9933"/><path d="M675.0 165.9L677.7 169.6L675.0 173.3L672.3 169.6Z" fill="#ff9933"/><path d="M678.0 245.4L680.7 249.1L678.0 252.8L675.3 249.1Z" fill="#ff9933"/><path d="M676.7 250.0L679.4 253.7L676.7 257.4L674.0 253.7Z" fill="#ff9933"/><path d="M674.7 254.3L677.4 258.0L674.7 261.7L672.0 258.0Z" fill="#ff9933"/><path d="M678.0 267.6L680.7 271.3L678.0 275.0L675.3 271.3Z" fill="#ff9933"/><rect x="604.6" y="224.8" width="4.4" height="4.4" fill="#ff9933"/><rect x="561.5" y="269.2" width="4.4" height="4.4" fill="#ff9933"/><rect x="575.4" y="254.3" width="4.4" height="4.4" fill="#ff9933"/><rect x="584.9" y="257.1" width="4.4" height="4.4" fill="#ff9933"/><rect x="589.2" y="256.2" width="4.4" height="4.4" fill="#ff9933"/><rect x="583.5" y="261.6" width="4.4" height="4.4" fill="#ff9933"/><rect x="589.2" y="266.8" width="4.4" height="4.4" fill="#ff9933"/><rect x="596.3" y="258.9" width="4.4" height="4.4" fill="#ff9933"/><rect x="595.0" y="263.5" width="4.4" height="4.4" fill="#ff9933"/><rect x="598.2" y="271.4" width="4.4" height="4.4" fill="#ff9933"/><rect x="604.6" y="260.7" width="4.4" height="4.4" fill="#ff9933"/><rect x="624.0" y="235.6" width="4.4" height="4.4" fill="#ff9933"/><rect x="630.8" y="249.7" width="4.4" height="4.4" fill="#ff9933"/><rect x="633.9" y="257.6" width="4.4" height="4.4" fill="#ff9933"/><rect x="632.6" y="267.7" width="4.4" height="4.4" fill="#ff9933"/><rect x="635.3" y="266.8" width="4.4" height="4.4" fill="#ff9933"/><rect x="634.4" y="270.8" width="4.4" height="4.4" fill="#ff9933"/><rect x="631.7" y="270.8" width="4.4" height="4.4" fill="#ff9933"/><rect x="636.8" y="270.1" width="4.4" height="4.4" fill="#ff9933"/><path d="M568.2 252.2L572.4 256.4M568.2 256.4L572.4 252.2" stroke="#ffbf85" stroke-width="0.8" fill="none"/><path d="M607.9 261.4L612.1 265.6M607.9 265.6L612.1 261.4" stroke="#ffbf85" stroke-width="0.8" fill="none"/><path d="M610.7 262.3L614.9 266.5M610.7 266.5L614.9 262.3" stroke="#ffbf85" stroke-width="0.8" fill="none"/><path d="M608.9 266.0L613.1 270.2M608.9 270.2L613.1 266.0" stroke="#ffbf85" stroke-width="0.8" fill="none"/><path d="M609.8 268.7L614.0 272.9M609.8 272.9L614.0 268.7" stroke="#ffbf85" stroke-width="0.8" fill="none"/><path d="M612.6 262.3L616.8 266.5M612.6 266.5L616.8 262.3" stroke="#ffbf85" stroke-width="0.8" fill="none"/><path d="M621.7 257.7L625.9 261.9M621.7 261.9L625.9 257.7" stroke="#ffbf85" stroke-width="0.8" fill="none"/><path d="M619.9 253.1L624.1 257.3M619.9 257.3L624.1 253.1" stroke="#ffbf85" stroke-width="0.8" fill="none"/><path d="M638.9 263.4L643.1 267.6M638.9 267.6L643.1 263.4" stroke="#ffbf85" stroke-width="0.8" fill="none"/><path d="M635.1 268.9L639.3 273.1M635.1 273.1L639.3 268.9" stroke="#ffbf85" stroke-width="0.8" fill="none"/><rect x="556.4" y="6.4" width="49.4" height="25.1" fill="#fff" stroke="#6a6a6a" stroke-width="0.8"/><path d="M568.8 8.8L570.5999999999999 11.4L568.8 14.0L567.0 11.4Z" fill="none" stroke="#333" stroke-width="0.8"/><rect x="567.1999999999999" y="17.599999999999998" width="3.2" height="3.2" fill="none" stroke="#333" stroke-width="0.8"/><path d="M567.0999999999999 25.400000000000002L570.5 28.8M567.0999999999999 28.8L570.5 25.400000000000002" stroke="#333" stroke-width="0.7"/><text x="580.3" y="13.6" font-size="6.2" fill="#111">349-59A</text><text x="580.3" y="21.4" font-size="6.2" fill="#111">349-59B</text><text x="580.3" y="29.3" font-size="6.2" fill="#111">351-66</text></svg></body></html>
